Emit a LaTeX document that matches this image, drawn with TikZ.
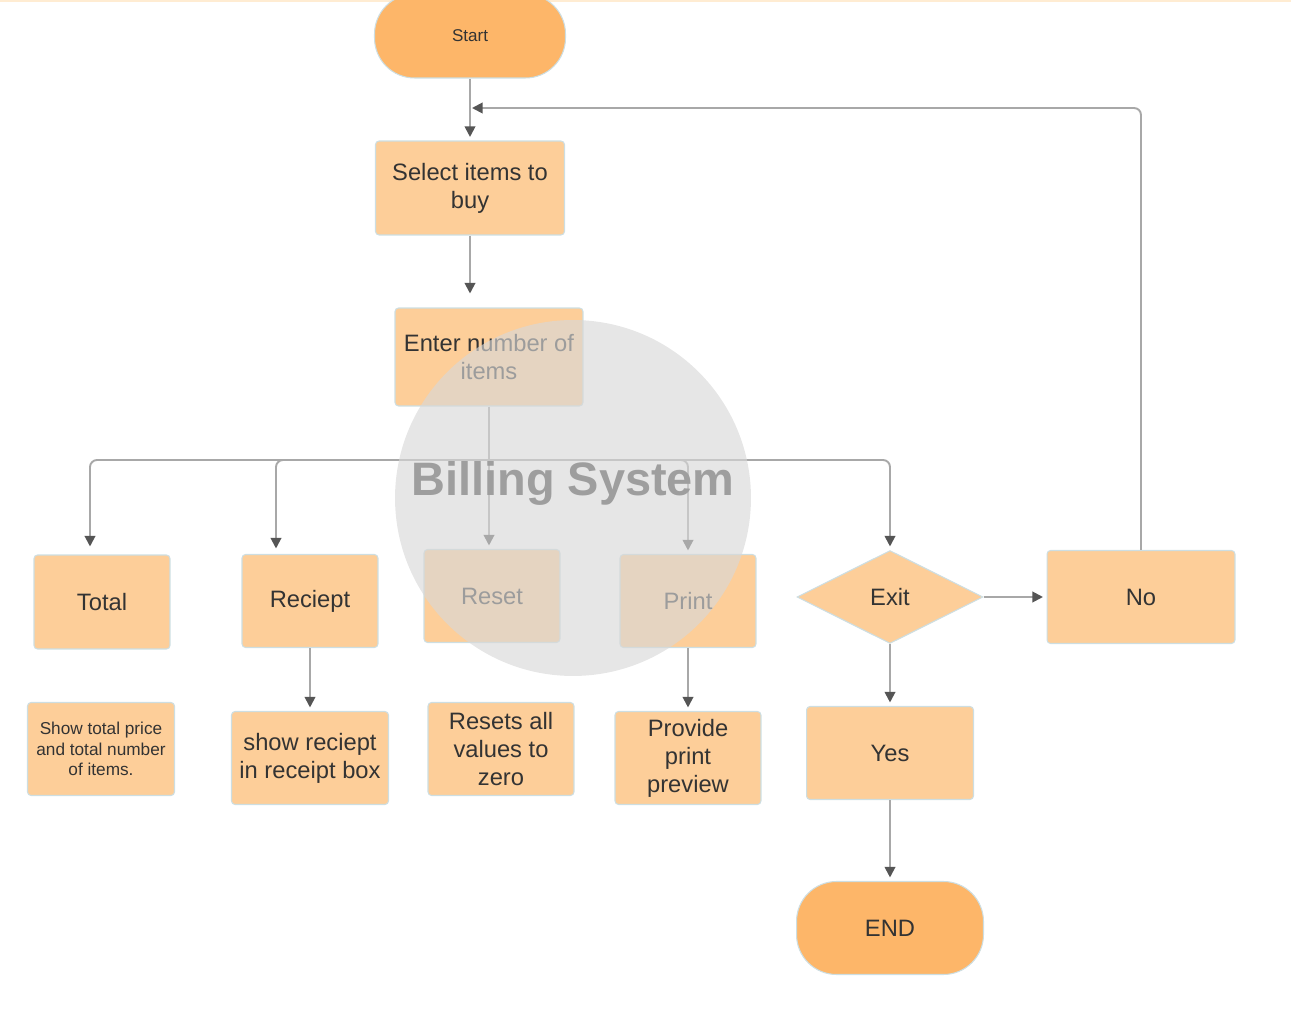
\documentclass[tikz,border=0pt]{standalone}
\usepackage{fontspec}
\setmainfont{Liberation Sans}
\usepackage{xcolor}
\usetikzlibrary{arrows.meta,shapes.geometric}

\definecolor{boxfill}{RGB}{253,206,153}
\definecolor{termfill}{RGB}{253,182,105}
\definecolor{boxline}{RGB}{205,222,226}
\definecolor{linkgray}{RGB}{168,168,168}
\definecolor{tipgray}{RGB}{85,85,85}
\definecolor{txtgray}{RGB}{51,51,51}
\definecolor{circgray}{RGB}{216,216,216}

\tikzset{
    box/.style={rectangle, rounded corners=2pt, fill=boxfill, draw=boxline, line width=0.6pt,
        text=txtgray, align=center, inner sep=2pt,
        font=\fontsize{13.5}{16}\selectfont},
    term/.style={box, fill=termfill, rounded corners=0.8cm},
    decision/.style={diamond, aspect=2, fill=boxfill, draw=boxline, line width=0.6pt,
        text=txtgray, inner sep=0pt, font=\fontsize{13.5}{16}\selectfont},
    arr/.style={draw=linkgray, line width=1.1pt,
        -{Triangle[length=6pt,width=6pt,color=tipgray]}, shorten >=2pt}
}

\begin{document}
\begin{tikzpicture}[x=0.02cm, y=-0.02cm]
    \useasboundingbox (0,0) rectangle (1291,1026);

    % faint top edge
    \draw[color={rgb,255:red,255;green,236;blue,210}, line width=1.2pt] (0,1) -- (1291,1);

    % Start / select / enter
    \node[term, minimum width=3.82cm, minimum height=1.68cm, font=\fontsize{9.7}{12}\selectfont]
        (start) at (470,36) {Start};
    \node[box, minimum width=3.78cm, minimum height=1.88cm] (select) at (470,188) {Select items to\\ buy};
    \node[box, minimum width=3.76cm, minimum height=1.96cm] (enter) at (489,357) {Enter number of\\ items};

    % Options row
    \node[box, minimum width=2.72cm, minimum height=1.88cm] (total) at (102,602) {Total};
    \node[box, minimum width=2.72cm, minimum height=1.86cm] (reciept) at (310,601) {Reciept};
    \node[box, minimum width=2.72cm, minimum height=1.86cm] (reset) at (492,596) {Reset};
    \node[box, minimum width=2.72cm, minimum height=1.86cm] (print) at (688,601) {Print};
    \node[decision, minimum width=3.72cm, minimum height=1.86cm] (exit) at (890,597) {Exit};
    \node[box, minimum width=3.76cm, minimum height=1.86cm] (no) at (1141,597) {No};

    % Results row
    \node[box, minimum width=2.94cm, minimum height=1.86cm, font=\fontsize{9.8}{11.5}\selectfont]
        (totalres) at (101,749) {Show total price\\ and total number\\ of items.};
    \node[box, minimum width=3.14cm, minimum height=1.86cm] (recres) at (310,758) {show reciept\\ in receipt box};
    \node[box, minimum width=2.92cm, minimum height=1.86cm] (resetres) at (501,749) {Resets all\\ values to\\ zero};
    \node[box, minimum width=2.92cm, minimum height=1.86cm] (printres) at (688,758) {Provide\\ print\\ preview};
    \node[box, minimum width=3.34cm, minimum height=1.86cm] (yes) at (890,753) {Yes};
    \node[term, minimum width=3.74cm, minimum height=1.86cm] (endnode) at (890,928) {END};

    % Helper points
    \coordinate (loopin) at (472,108);
    \coordinate (enterin) at (470,297);
    \coordinate (split) at (489,460);
    \coordinate (totalin) at (90,550);
    \coordinate (recin) at (276,552);

    % Main flow
    \draw[arr] (start.south) -- (select.north);
    \draw[arr] (select.south) -- (enterin);
    \draw[arr] (enter.south) -- (enter.south |- reset.north);

    % Branches
    \draw[arr, rounded corners=4pt] (split) -| (totalin);
    \draw[arr, rounded corners=4pt] (split) -| (recin);
    \draw[arr, rounded corners=4pt] (split) -| (print.north);
    \draw[arr, rounded corners=4pt] (split) -| (exit.north);

    % Results
    \draw[arr] (reciept.south) -- (recres.north);
    \draw[arr] (print.south) -- (printres.north);
    \draw[arr] (exit.east) -- (no.west);
    \draw[arr] (exit.south) -- (yes.north);
    \draw[arr] (yes.south) -- (endnode.north);

    % Loop back
    \draw[arr, rounded corners=4pt, shorten >=0pt] (no.north) |- (loopin);

    % Title overlay
    \fill[circgray, opacity=0.64] (573,498) circle (3.56cm);
    \node[text={rgb,255:red,158;green,158;blue,158}, font=\fontsize{26.7}{30}\selectfont\bfseries]
        (title) at (573,483) {Billing System};
\end{tikzpicture}
\end{document}
